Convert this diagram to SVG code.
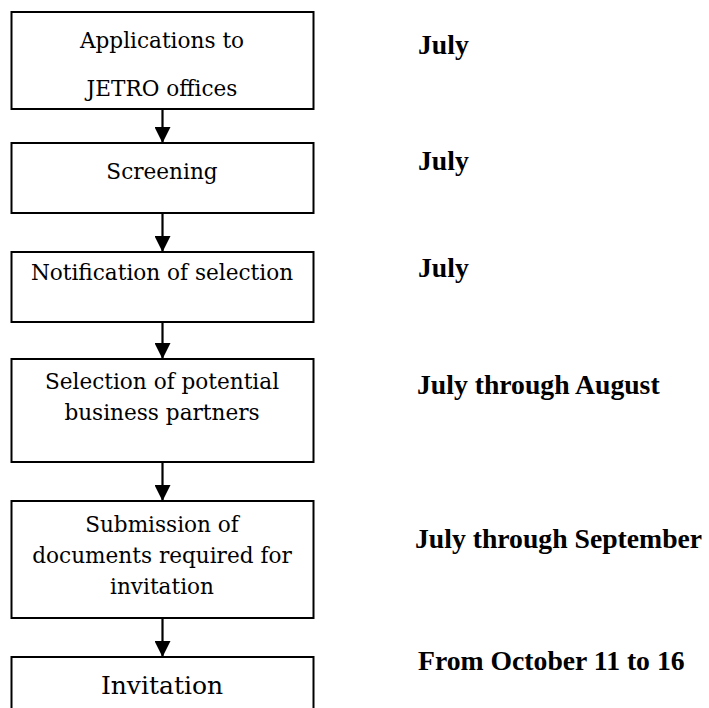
<svg xmlns="http://www.w3.org/2000/svg" width="709" height="708" viewBox="0 0 709 708">
  <style>
    .box { fill: #ffffff; stroke: #000000; stroke-width: 2; }
    text { fill: #000; }
    .t { font-family: 'DejaVu Serif', 'Liberation Serif', serif; font-size: 21.6px; text-anchor: middle; }
    .big { font-family: 'DejaVu Serif', 'Liberation Serif', serif; font-size: 25px; text-anchor: middle; }
    .lab { font-family: 'Liberation Serif', 'Times New Roman', serif; font-size: 27.7px; font-weight: bold; }
    .conn { stroke: #000; stroke-width: 2.2; fill: none; }
  </style>
  <defs>
    <marker id="ah" viewBox="0 0 16 16" refX="16" refY="8" markerWidth="16" markerHeight="16" markerUnits="userSpaceOnUse" orient="auto">
      <path d="M0,0 L16,8 L0,16 Z" fill="#000"/>
    </marker>
  </defs>
  <rect x="0" y="0" width="709" height="708" fill="#ffffff"/>

  <g id="connectors">
    <line class="conn" x1="162.5" y1="106" x2="162.5" y2="143" marker-end="url(#ah)"/>
    <line class="conn" x1="162.5" y1="212" x2="162.5" y2="252" marker-end="url(#ah)"/>
    <line class="conn" x1="162.5" y1="321" x2="162.5" y2="359" marker-end="url(#ah)"/>
    <line class="conn" x1="162.5" y1="461" x2="162.5" y2="501" marker-end="url(#ah)"/>
    <line class="conn" x1="162.5" y1="617" x2="162.5" y2="657" marker-end="url(#ah)"/>
  </g>

  <g id="node-applications">
    <rect class="box" x="11.5" y="12" width="302" height="97"/>
    <text class="t" x="162" y="48">Applications to</text>
    <text class="t" x="162" y="96">JETRO offices</text>
  </g>
  <g id="node-screening">
    <rect class="box" x="11.5" y="143" width="302" height="70"/>
    <text class="t" x="162" y="179">Screening</text>
  </g>
  <g id="node-notification">
    <rect class="box" x="11.5" y="252" width="302" height="70"/>
    <text class="t" x="162" y="280">Notification of selection</text>
  </g>
  <g id="node-partners">
    <rect class="box" x="11.5" y="359" width="302" height="103"/>
    <text class="t" x="162" y="389">Selection of potential</text>
    <text class="t" x="162" y="420">business partners</text>
  </g>
  <g id="node-submission">
    <rect class="box" x="11.5" y="501" width="302" height="117"/>
    <text class="t" x="162" y="532">Submission of</text>
    <text class="t" x="162" y="563">documents required for</text>
    <text class="t" x="162" y="594">invitation</text>
  </g>
  <g id="node-invitation">
    <rect class="box" x="11.5" y="657" width="302" height="70"/>
    <text class="big" x="162" y="694">Invitation</text>
  </g>

  <g id="labels">
    <text class="lab" x="418" y="54">July</text>
    <text class="lab" x="418" y="170">July</text>
    <text class="lab" x="418" y="277">July</text>
    <text class="lab" x="417" y="394">July through August</text>
    <text class="lab" x="415" y="548">July through September</text>
    <text class="lab" x="418" y="670">From October 11 to 16</text>
  </g>
</svg>
